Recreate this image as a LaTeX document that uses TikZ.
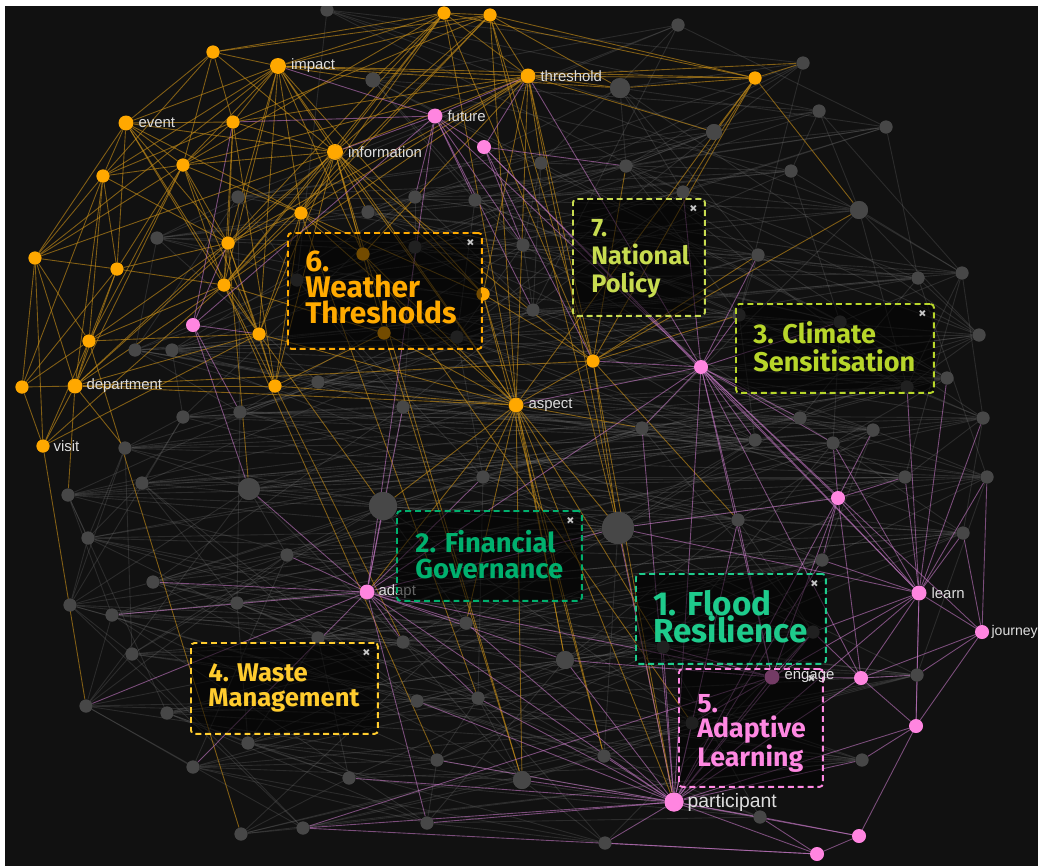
\documentclass[tikz,border=0pt]{standalone}
\usepackage{fontspec}
\setmainfont{Liberation Sans}
\newfontfamily\boxfont{Fira Sans}
\usepackage{tikz}
\usetikzlibrary{positioning}

\definecolor{bg}{HTML}{111111}
\definecolor{ornode}{HTML}{FFA800}
\definecolor{pknode}{HTML}{FF85E0}
\definecolor{gynode}{HTML}{474747}
\definecolor{oredge}{HTML}{C88F18}
\definecolor{pkedge}{HTML}{C87AC8}
\definecolor{gyedge}{HTML}{6A6A6A}
\definecolor{cflood}{HTML}{1ECB8C}
\definecolor{cfin}{HTML}{00B06E}
\definecolor{cclim}{HTML}{B8D62A}
\definecolor{cwaste}{HTML}{FFCC2E}
\definecolor{cadapt}{HTML}{FF88E2}
\definecolor{cweather}{HTML}{FFAA00}
\definecolor{cpolicy}{HTML}{C8DC50}

\begin{document}
\begin{tikzpicture}[
          x=0.02cm, y=-0.02cm,
          dot/.style={circle, inner sep=0pt, minimum size=0.26cm},
          onode/.style={dot, fill=ornode},
          pnode/.style={dot, fill=pknode},
          gnode/.style={dot, fill=gynode},
          oline/.style={draw=oredge, draw opacity=0.62, line width=0.5pt},
          pline/.style={draw=pkedge, draw opacity=0.58, line width=0.5pt},
          gline/.style={draw=gyedge, draw opacity=0.3, line width=0.5pt},
          word/.style={font=\fontsize{8.5}{10}\selectfont, text=white!87!black, inner sep=0.5pt},
          topic/.style={draw, dash pattern=on 3.4pt off 2.2pt, rounded corners=2pt, line width=1.1pt,
                        fill=black, fill opacity=0.55, anchor=north west, inner sep=0pt},
          title/.style={align=left, inner sep=0pt},
          shut/.style={text=white!78!black, font=\boxfont\bfseries\fontsize{9}{9}\selectfont, inner sep=0pt}
        ]

          \useasboundingbox (0,0) rectangle (1038,866);
          \fill[white] (0,0) rectangle (1038,866);
          \fill[bg] (5,6) rectangle (1038,866);
          \clip (5,6) rectangle (1038,866);

          % grey terms
          \foreach \x/\y/\s [count=\i] in {327/10/13, 678/25/13, 803/63/13, 373/80/15, 620/88/20, 819/111/13,
              886/127/13, 714/132/16, 541/163/13, 626/166/13, 791/171/13, 683/192/13, 238/197/13, 415/197/13,
              475/200/13, 368/212/13, 859/210/18, 157/238/13, 415/247/13, 523/245/13, 758/255/13, 962/273/13,
              918/278/13, 297/280/13, 533/310/13, 739/315/13, 840/322/13, 979/335/13, 135/350/13, 172/350/13,
              457/337/13, 947/378/13, 907/387/13, 318/382/13, 403/407/13, 240/412/13, 183/417/13, 983/418/13,
              800/418/13, 642/428/13, 873/430/13, 755/440/13, 833/443/13, 125/448/13, 905/477/13, 987/477/13,
              483/477/13, 142/483/13, 249/489/22, 68/495/13, 383/506/28, 738/520/13, 618/528/32, 963/533/13,
              88/538/13, 287/555/13, 822/560/13, 153/582/13, 237/603/13, 70/605/13, 112/615/13, 466/623/13,
              813/632/13, 318/638/13, 403/642/13, 663/647/13, 132/654/13, 565/660/18, 917/675/13, 478/698/13,
              417/701/13, 86/706/13, 167/713/13, 692/723/13, 248/743/13, 604/756/13, 437/760/13, 862/760/13,
              193/767/13, 349/778/13, 522/780/18, 760/817/13, 303/828/13, 427/823/13, 241/834/13, 605/843/13}
            \node[gnode, minimum size=\s*0.02cm] (g\i) at (\x,\y) {};

          % orange terms
          \foreach \n/\x/\y in {o1/444/13, o2/490/15, o3/213/52, o4/755/78, o5/233/122, o6/183/165, o7/103/176,
              o8/301/213, o9/228/243, o10/117/269, o11/35/258, o12/224/285, o13/259/334, o14/89/341,
              o15/22/387, o16/275/386, o17/593/361, o18/483/294, o19/363/254, o20/384/333}
            \node[onode] (\n) at (\x,\y) {};
          \node[onode, minimum size=0.32cm] (impact) at (278,66) {};
          \node[onode, minimum size=0.3cm] (threshold) at (528,76) {};
          \node[onode, minimum size=0.3cm] (event) at (126,123) {};
          \node[onode, minimum size=0.32cm] (information) at (335,152) {};
          \node[onode, minimum size=0.3cm] (department) at (75,386) {};
          \node[onode] (visit) at (43,446) {};
          \node[onode, minimum size=0.3cm] (aspect) at (516,405) {};

          % pink terms
          \foreach \n/\x/\y in {p1/484/147, p2/193/325, p3/701/367, p4/838/498, p5/861/678, p6/916/726,
              p7/859/836, p8/817/854}
            \node[pnode] (\n) at (\x,\y) {};
          \node[pnode, minimum size=0.3cm] (future) at (435,116) {};
          \node[pnode, minimum size=0.3cm] (learn) at (919,593) {};
          \node[pnode] (journey) at (982,632) {};
          \node[pnode, minimum size=0.3cm] (adapt) at (367,592) {};
          \node[pnode, minimum size=0.3cm] (engage) at (772,677) {};
          \node[pnode, minimum size=0.38cm] (participant) at (674,802) {};

          % grey links
          \foreach \i in {1,...,86}
            \foreach \k in {2,5,7,11,16,23} {
              \pgfmathtruncatemacro\j{\i+\k}
              \ifnum\j<87 \draw[gline] (g\i) -- (g\j); \fi
            }

          % orange links
          \foreach \a/\b in {impact/o3, impact/o5, impact/event, impact/o6, impact/o7, impact/information,
              impact/o8, impact/o9, impact/o12, impact/o13, impact/threshold, impact/o1, impact/o2, impact/o4,
              impact/o11, impact/aspect, impact/o18, impact/g5, impact/g4, impact/o19,
              o3/event, o3/o5, o3/o7, o3/information, o3/o1, o3/o6, o3/o2,
              event/o5, event/o6, event/o7, event/o11, event/o10, event/o9, event/o12, event/o13,
              event/information, event/o8,
              o5/o6, o5/o7, o5/information, o5/o2, o5/o12, o5/o16, o5/o9, o5/threshold,
              o6/o7, o6/information, o6/o8, o6/o9, o6/o10, o6/o11, o6/o12, o6/o13, o6/o14, o6/department,
              o6/threshold, o6/o1,
              o7/o11, o7/o10, o7/o14, o7/department, o7/o15, o7/o9,
              information/o8, information/o9, information/o12, information/o13, information/o16,
              information/o19, information/o20, information/aspect, information/o18, information/threshold,
              information/o1, information/o2, information/department, information/o11, information/o17,
              information/g16,
              threshold/o1, threshold/o2, threshold/o4, threshold/o17, threshold/aspect, threshold/o18,
              threshold/o8, threshold/o19, threshold/g5, threshold/g8, threshold/g9, threshold/g3,
              threshold/o12, threshold/o9,
              o1/o2, o1/o4, o1/o8, o1/o9, o1/o17, o1/g4, o1/o12,
              o2/o4, o2/o17, o2/aspect, o2/o12, o2/g5, o2/o8,
              o4/g3, o4/g17, o4/o17, o4/aspect, o4/g8, o4/g12, o4/g5,
              o8/o9, o8/o12, o8/o19, o8/aspect, o8/o13, o8/o16, o8/o18,
              o9/o12, o9/o10, o9/o13, o9/o14, o9/department, o9/o16,
              o10/o11, o10/o14, o10/department, o10/o15, o10/o12,
              o11/o14, o11/o15, o11/department, o11/visit,
              o12/o13, o12/o14, o12/department, o12/visit, o12/o16, o12/o20,
              o13/o16, o13/department, o13/visit, o13/o14, o13/aspect,
              o14/department, o14/o15, o14/visit,
              department/o15, department/visit, department/o16, department/aspect, department/o17,
              department/g44, department/g50,
              o15/visit, o16/aspect, o16/o20,
              aspect/o17, aspect/o18, aspect/o20, aspect/o19, aspect/g51, aspect/g53, aspect/g47, aspect/g40,
              aspect/participant, aspect/g68, aspect/g81, aspect/g62, aspect/adapt, aspect/g66, aspect/g76,
              o17/o18, o17/g17, o17/g26, o17/g21, o17/g53, o17/participant, o17/g52, o17/g10,
              visit/g72, o14/g85, o12/g77, o8/g70, information/g81, o13/g51, o16/g65, o9/g49,
              threshold/participant, o19/g74, o2/g53, o1/g68, o18/g76, o20/g81}
            \draw[oline] (\a) -- (\b);

          % pink links
          \foreach \a/\b in {future/p1, future/p2, future/threshold, future/information, future/p3, future/adapt,
              future/o5, future/g15, future/g20, future/g25, future/g14, future/impact,
              p1/p3, p1/threshold, p1/g10, p1/learn, p1/g20, p1/o17,
              p2/o5, p2/g49, p2/o13, p2/g36, p2/o9,
              p3/learn, p3/p4, p3/participant, p3/threshold, p3/o17, p3/g26, p3/g27, p3/g21, p3/g12, p3/g40,
              p3/g42, p3/g43, p3/g52, p3/journey, p3/p5, p3/engage, p3/aspect, p3/adapt, p3/g39,
              p4/learn, p4/p5, p4/participant, p4/g45, p4/g43, p4/g57, p4/engage, p4/g41, p4/g53,
              learn/journey, learn/p5, learn/p6, learn/engage, learn/participant, learn/g45, learn/g46,
              learn/g54, learn/g69, learn/g57, learn/g63, learn/g43, learn/g33, learn/g38, learn/g32, learn/g53,
              journey/p5, journey/p6, journey/g54, journey/g46, journey/g69,
              p5/p6, p5/engage, p5/participant, p5/g69, p5/g63,
              p6/participant, p6/p7, p6/g69, p6/g78,
              participant/p7, participant/p8, participant/engage, participant/adapt, participant/g74,
              participant/g76, participant/g81, participant/g82, participant/g86, participant/g68,
              participant/g53, participant/g66, participant/g62, participant/g70, participant/g77,
              participant/g84, participant/g78, participant/g63, participant/g57, participant/g52,
              participant/g40, participant/g83, participant/g80, participant/g71,
              p7/p8, p7/g82, p8/g82, p8/g86, g83/engage, g83/p8,
              adapt/g51, adapt/g49, adapt/g62, adapt/g65, adapt/g70, adapt/g56, adapt/g72, adapt/g84,
              adapt/g68, adapt/g53, adapt/engage, adapt/g35, adapt/g47, adapt/g58, adapt/g79, adapt/g61,
              engage/g74, engage/g63, engage/g66, engage/g52, engage/g68}
            \draw[pline] (\a) -- (\b);

          % redraw the dots over the links
          \foreach \x/\y/\s [count=\i] in {327/10/13, 678/25/13, 803/63/13, 373/80/15, 620/88/20, 819/111/13,
              886/127/13, 714/132/16, 541/163/13, 626/166/13, 791/171/13, 683/192/13, 238/197/13, 415/197/13,
              475/200/13, 368/212/13, 859/210/18, 157/238/13, 415/247/13, 523/245/13, 758/255/13, 962/273/13,
              918/278/13, 297/280/13, 533/310/13, 739/315/13, 840/322/13, 979/335/13, 135/350/13, 172/350/13,
              457/337/13, 947/378/13, 907/387/13, 318/382/13, 403/407/13, 240/412/13, 183/417/13, 983/418/13,
              800/418/13, 642/428/13, 873/430/13, 755/440/13, 833/443/13, 125/448/13, 905/477/13, 987/477/13,
              483/477/13, 142/483/13, 249/489/22, 68/495/13, 383/506/28, 738/520/13, 618/528/32, 963/533/13,
              88/538/13, 287/555/13, 822/560/13, 153/582/13, 237/603/13, 70/605/13, 112/615/13, 466/623/13,
              813/632/13, 318/638/13, 403/642/13, 663/647/13, 132/654/13, 565/660/18, 917/675/13, 478/698/13,
              417/701/13, 86/706/13, 167/713/13, 692/723/13, 248/743/13, 604/756/13, 437/760/13, 862/760/13,
              193/767/13, 349/778/13, 522/780/18, 760/817/13, 303/828/13, 427/823/13, 241/834/13, 605/843/13}
            \fill[gynode] (g\i.center) circle (\s*0.01cm);
          \foreach \n in {o1,o2,o3,o4,o5,o6,o7,o8,o9,o10,o11,o12,o13,o14,o15,o16,o17,o18,o19,o20,
              impact,threshold,event,information,department,visit,aspect}
            \fill[ornode] (\n.center) circle (0.13cm);
          \foreach \n in {p1,p2,p3,p4,p5,p6,p7,p8,future,learn,journey,adapt,engage}
            \fill[pknode] (\n.center) circle (0.14cm);
          \fill[pknode] (participant.center) circle (0.19cm);

          % term labels
          \node[word, right=0.07cm of impact] {impact};
          \node[word, right=0.07cm of threshold] {threshold};
          \node[word, right=0.07cm of event] {event};
          \node[word, right=0.07cm of information] {information};
          \node[word, right=0.07cm of future] {future};
          \node[word, right=0.05cm of department] {department};
          \node[word, right=0.05cm of visit] {visit};
          \node[word, right=0.07cm of aspect] {aspect};
          \node[word, right=0.05cm of adapt] {adapt};
          \node[word, right=0.07cm of learn] {learn};
          \node[word, font=\fontsize{8}{9}\selectfont, right=0.03cm of journey] {journey};
          \node[word, font=\fontsize{11}{12}\selectfont, right=0.05cm of participant] {participant};

          % topic boxes
          \node[topic, draw=cweather, minimum width=3.88cm, minimum height=2.32cm] (b6) at (287,232) {};
          \node[title, text=cweather, font=\boxfont\bfseries\fontsize{17}{14.8}\selectfont,
                below right=0.38cm and 0.36cm of b6.north west] (t6) {6.\\Weather\\Thresholds};
          \node[shut, below left=0.15cm and 0.16cm of b6.north east] {×};

          \node[topic, draw=cpolicy, minimum width=2.64cm, minimum height=2.34cm] (b7) at (572,198) {};
          \node[title, text=cpolicy, font=\boxfont\bfseries\fontsize{14.4}{15.9}\selectfont,
                below right=0.43cm and 0.38cm of b7.north west] (t7) {7.\\National\\Policy};
          \node[shut, below left=0.15cm and 0.16cm of b7.north east] {×};

          \node[topic, draw=cclim, minimum width=3.96cm, minimum height=1.78cm] (b3) at (735,303) {};
          \node[title, text=cclim, font=\boxfont\bfseries\fontsize{15.4}{15.9}\selectfont,
                below right=0.37cm and 0.36cm of b3.north west] (t3) {3. Climate\\Sensitisation};
          \node[shut, below left=0.15cm and 0.16cm of b3.north east] {×};

          \node[topic, draw=cfin, minimum width=3.70cm, minimum height=1.80cm] (b2) at (396,510) {};
          \node[title, text=cfin, font=\boxfont\bfseries\fontsize{15.6}{15.3}\selectfont,
                below right=0.39cm and 0.38cm of b2.north west] (t2) {2. Financial\\Governance};
          \node[shut, below left=0.15cm and 0.16cm of b2.north east] {×};

          \node[topic, draw=cflood, minimum width=3.80cm, minimum height=1.80cm] (b1) at (635,573) {};
          \node[title, text=cflood, font=\boxfont\bfseries\fontsize{18.9}{15.9}\selectfont,
                below right=0.33cm and 0.36cm of b1.north west] (t1) {1. Flood\\Resilience};
          \node[shut, below left=0.15cm and 0.16cm of b1.north east] {×};

          \node[topic, draw=cwaste, minimum width=3.74cm, minimum height=1.82cm] (b4) at (190,642) {};
          \node[title, text=cwaste, font=\boxfont\bfseries\fontsize{14.6}{14.2}\selectfont,
                below right=0.43cm and 0.36cm of b4.north west] (t4) {4. Waste\\Management};
          \node[shut, below left=0.15cm and 0.16cm of b4.north east] {×};

          \node[topic, draw=cadapt, minimum width=2.88cm, minimum height=2.36cm] (b5) at (678,668) {};
          \node[title, text=cadapt, font=\boxfont\bfseries\fontsize{15.2}{13.9}\selectfont,
                below right=0.53cm and 0.38cm of b5.north west] (t5) {5.\\Adaptive\\Learning};
          \node[shut, below left=0.15cm and 0.16cm of b5.north east] {×};

          \node[word, right=0.07cm of engage] {engage};

        \end{tikzpicture}
\end{document}
